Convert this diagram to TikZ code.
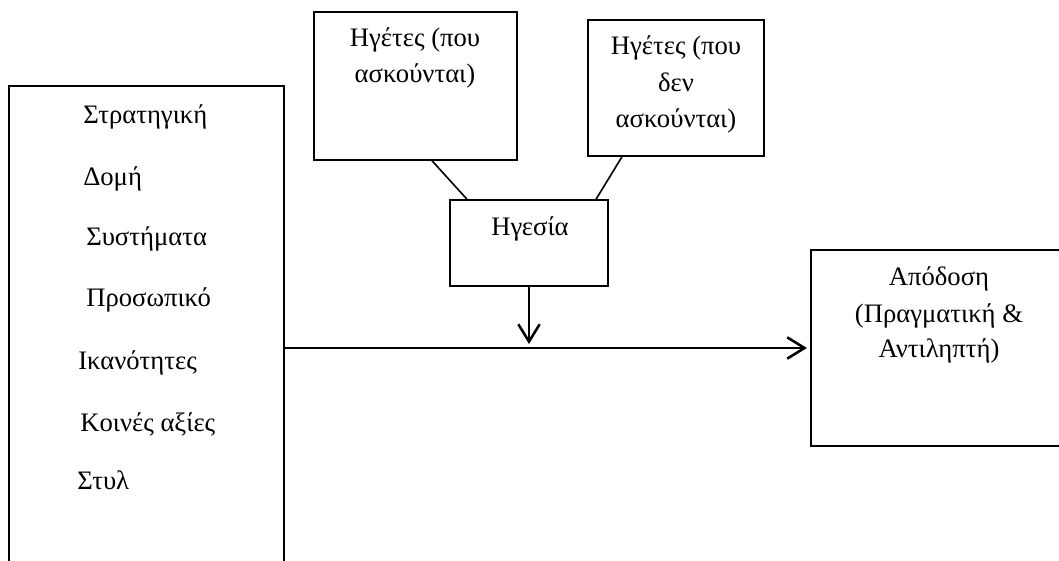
\documentclass[tikz,border=0pt]{standalone}
\usepackage{fontspec}
\setmainfont{Liberation Serif}
\usetikzlibrary{arrows.meta,fit}
\begin{document}
\begin{tikzpicture}[x=0.75pt,y=-0.75pt,
  box/.style={draw,line width=1.1pt,inner sep=0pt},
  txt/.style={inner sep=0pt,font=\fontsize{20}{24}\selectfont},
  link/.style={line width=1.2pt},
  arr/.style={line width=1.9pt,-{Straight Barb[length=13pt,width=16pt,line width=1.9pt]}}]
\useasboundingbox (0,0) rectangle (1059,560);
\clip (0,0) rectangle (1059,560);
% boxes
\node[box,fit={(9,86) (284,620)}] (left) {};
\node[box,fit={(314,12) (517,160)}] (tl) {};
\node[box,fit={(588,20) (764,156)}] (tr) {};
\node[box,fit={(450,200) (608,286)}] (hg) {};
\node[box,fit={(811,250) (1120,446)}] (right) {};
% left box texts
\node[txt,anchor=base west] (l1) at (83,123) {Στρατηγική};
\node[txt,anchor=base west] (l2) at (83,185) {Δομή};
\node[txt,anchor=base west] (l3) at (86,245) {Συστήματα};
\node[txt,anchor=base west] (l4) at (86,306) {Προσωπικό};
\node[txt,anchor=base west] (l5) at (78,369) {Ικανότητες};
\node[txt,anchor=base west] (l6) at (80,431) {Κοινές αξίες};
\node[txt,anchor=base west] (l7) at (77,489) {Στυλ};
% top-left box
\node[txt,anchor=base] (tl1) at (415,46) {Ηγέτες (που};
\node[txt,anchor=base] (tl2) at (415,83) {ασκούνται)};
% top-right box
\node[txt,anchor=base] (tr1) at (676,55) {Ηγέτες (που};
\node[txt,anchor=base] (tr2) at (676,91) {δεν};
\node[txt,anchor=base] (tr3) at (676,127) {ασκούνται)};
% leadership
\node[txt,anchor=base] (hg1) at (530,235) {Ηγεσία};
% performance
\node[txt,anchor=base] (r1) at (939,285) {Απόδοση};
\node[txt,anchor=base] (r2) at (939,322) {(Πραγματική \&};
\node[txt,anchor=base] (r3) at (939,357) {Αντιληπτή)};
% connectors
\draw[link] (tl.south -| 432,0) -- (hg.north -| 467,0);
\draw[link] (tr.south -| 622,0) -- (hg.north -| 596,0);
\coordinate (vend) at (529,344);
\draw[arr] (hg.south -| 529,0) -- (vend);
\draw[arr,shorten >=2.5pt] (left.east |- 0,348) -- (right.west |- 0,348);
\end{tikzpicture}
\end{document}
